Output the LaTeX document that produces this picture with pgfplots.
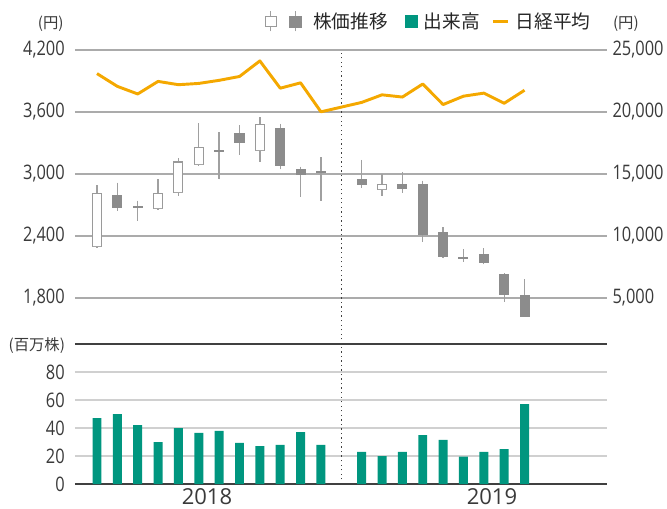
\documentclass[border=0pt]{standalone}
\usepackage{pgfplots}
\pgfplotsset{compat=1.18}
\usepgfplotslibrary{statistics}
\usepackage{fontspec}
\setmainfont{Open Sans}
\newfontfamily\cond{Open Sans}[FakeStretch=0.82]
\newfontfamily\jp{Noto Sans CJK JP}
\definecolor{wickc}{HTML}{A0A0A0}
\definecolor{edgec}{HTML}{9A9A9A}
\definecolor{candg}{HTML}{8C8C8C}
\definecolor{volc}{HTML}{00967F}
\definecolor{nikc}{HTML}{F4A800}
\definecolor{gridu}{HTML}{ABABAB}
\definecolor{gridl}{HTML}{D0D0D0}
\definecolor{darkl}{HTML}{404040}
\definecolor{txt}{HTML}{3A3A3A}
\pgfplotsset{
  wc/.style={draw=edgec, fill=white, line width=0.8pt},
  gc/.style={draw=candg, fill=candg, line width=0.8pt},
  common/.style={
    scale only axis, width=399pt,
    xmin=-1.08, xmax=25.05,
    axis line style={draw=none}, major tick length=0pt,
    xtick=\empty, scaled y ticks=false,
    /pgf/number format/assume math mode=true,
    /pgf/number format/1000 sep={,},
    yticklabel style={font=\cond\fontsize{15}{15}\selectfont, text=txt, inner sep=0pt},
    clip=false,
  },
}
\begin{document}
\begin{tikzpicture}[x=1pt,y=1pt]
\useasboundingbox (-56.25,-18) rectangle (444,363);

% ---------- lower panel: volume ----------
\begin{axis}[common,
  at={(0pt,0pt)}, anchor=south west, height=105pt,
  ymin=0, ymax=100,
  ytick={20,40,60,80},
  ymajorgrids, grid style={draw=gridl, line width=1.1pt},
  extra y ticks={0,100}, extra y tick labels={0,{}},
  extra y tick style={grid style={draw=darkl, line width=1.1pt}},
  yticklabel style={xshift=-7.5pt},
  ybar, bar width=0.44,
]
\addplot[fill=volc, draw=none] coordinates {
 (0,47) (1,50) (2,42) (3,30) (4,40) (5,36.5) (6,38) (7,29.3) (8,27) (9,28) (10,37) (11,28)
 (13,23) (14,20) (15,23) (16,35) (17,31.5) (18,19.5) (19,23) (20,25) (21,57)
};
\draw[darkl, line width=0.9pt, dash pattern=on 1pt off 2.4pt] (axis cs:12,0) -- (axis cs:12,100);
\node[anchor=base, font=\fontsize{16.5}{16.5}\selectfont, text=txt, yshift=-15pt] at (axis cs:5.4,0) {2018};
\node[anchor=base, font=\fontsize{16.5}{16.5}\selectfont, text=txt, yshift=-15pt] at (axis cs:19.4,0) {2019};
\node[anchor=east, font=\jp\fontsize{11.5}{11.5}\selectfont, text=txt, xshift=-4pt, yshift=-1pt] at (rel axis cs:0,1) {(百万株)};
\end{axis}

% ---------- upper panel: candles (left axis) ----------
\begin{axis}[common,
  at={(0pt,105pt)}, anchor=south west, height=220.5pt,
  ymin=1355, ymax=4200,
  ytick={1800,2400,3000,3600,4200},
  ymajorgrids, grid style={draw=gridu, line width=0.8pt},
  yticklabel style={xshift=-7.5pt},
  boxplot/draw direction=y,
  boxplot/box extend=0.44,
  boxplot/whisker extend=0,
  boxplot/every whisker/.style={draw=wickc, line width=1pt},
  boxplot/every median/.style={draw=none},
]
\addplot[wc, boxplot prepared={draw position=0, lower whisker=2281, lower quartile=2297, median=2297, upper quartile=2807, upper whisker=2890}] coordinates {};
\addplot[gc, boxplot prepared={draw position=1, lower whisker=2645, lower quartile=2674, median=2674, upper quartile=2794, upper whisker=2916}] coordinates {};
\addplot[gc, boxplot prepared={draw position=2, lower whisker=2548, lower quartile=2675, median=2675, upper quartile=2685, upper whisker=2742}] coordinates {};
\addplot[wc, boxplot prepared={draw position=3, lower whisker=2652, lower quartile=2668, median=2668, upper quartile=2813, upper whisker=2955}] coordinates {};
\addplot[wc, boxplot prepared={draw position=4, lower whisker=2787, lower quartile=2819, median=2819, upper quartile=3116, upper whisker=3152}] coordinates {};
\addplot[wc, boxplot prepared={draw position=5, lower whisker=3077, lower quartile=3090, median=3090, upper quartile=3258, upper whisker=3490}] coordinates {};
\addplot[gc, boxplot prepared={draw position=6, lower whisker=2949, lower quartile=3221, median=3221, upper quartile=3231, upper whisker=3406}] coordinates {};
\addplot[gc, boxplot prepared={draw position=7, lower whisker=3184, lower quartile=3303, median=3303, upper quartile=3394, upper whisker=3474}] coordinates {};
\addplot[wc, boxplot prepared={draw position=8, lower whisker=3119, lower quartile=3232, median=3232, upper quartile=3481, upper whisker=3555}] coordinates {};
\addplot[gc, boxplot prepared={draw position=9, lower whisker=3045, lower quartile=3087, median=3087, upper quartile=3442, upper whisker=3484}] coordinates {};
\addplot[gc, boxplot prepared={draw position=10, lower whisker=2781, lower quartile=2997, median=2997, upper quartile=3042, upper whisker=3071}] coordinates {};
\addplot[gc, boxplot prepared={draw position=11, lower whisker=2739, lower quartile=3017, median=3017, upper quartile=3027, upper whisker=3162}] coordinates {};
\addplot[gc, boxplot prepared={draw position=13, lower whisker=2868, lower quartile=2894, median=2894, upper quartile=2949, upper whisker=3136}] coordinates {};
\addplot[wc, boxplot prepared={draw position=14, lower whisker=2790, lower quartile=2852, median=2852, upper quartile=2894, upper whisker=2997}] coordinates {};
\addplot[gc, boxplot prepared={draw position=15, lower whisker=2819, lower quartile=2858, median=2858, upper quartile=2894, upper whisker=3016}] coordinates {};
\addplot[gc, boxplot prepared={draw position=16, lower whisker=2345, lower quartile=2413, median=2413, upper quartile=2894, upper whisker=2935}] coordinates {};
\addplot[gc, boxplot prepared={draw position=17, lower whisker=2184, lower quartile=2200, median=2200, upper quartile=2436, upper whisker=2484}] coordinates {};
\addplot[gc, boxplot prepared={draw position=18, lower whisker=2151, lower quartile=2185, median=2185, upper quartile=2195, upper whisker=2274}] coordinates {};
\addplot[gc, boxplot prepared={draw position=19, lower whisker=2126, lower quartile=2142, median=2142, upper quartile=2216, upper whisker=2281}] coordinates {};
\addplot[gc, boxplot prepared={draw position=20, lower whisker=1764, lower quartile=1839, median=1839, upper quartile=2029, upper whisker=2039}] coordinates {};
\addplot[gc, boxplot prepared={draw position=21, lower whisker=1626, lower quartile=1626, median=1626, upper quartile=1822, upper whisker=1984}] coordinates {};
\draw[darkl, line width=0.9pt, dash pattern=on 1pt off 2.4pt] (axis cs:12,1355) -- (axis cs:12,4200);
\node[anchor=east, font=\jp\fontsize{11.5}{11.5}\selectfont, text=txt, xshift=-5pt, yshift=19.5pt] at (rel axis cs:0,1) {(円)};
\end{axis}

% ---------- upper panel: Nikkei average (right axis) ----------
\begin{axis}[common,
  at={(0pt,105pt)}, anchor=south west, height=220.5pt,
  ymin=1290, ymax=25000,
  ytick={5000,10000,15000,20000,25000},
  yticklabel pos=right,
  yticklabel style={xshift=4pt},
  legend style={draw=none, fill=none, at={(0.977,1.097)}, anchor=east,
    font=\jp\fontsize{14}{14}\selectfont, text=black!85,
    column sep=0pt, nodes={inner sep=0pt}},
  legend columns=-1,
]
\addlegendimage{legend image code/.code={
  \path[draw=none, fill=none] (0pt,0pt) (36pt,0pt);
  \draw[draw=wickc, line width=0.8pt] (4.1pt,-7.5pt) -- (4.1pt,7.5pt);
  \draw[draw=edgec, fill=white, line width=0.75pt] (0pt,-4pt) rectangle (8.25pt,4pt);
  \draw[draw=wickc, line width=0.8pt] (22.5pt,-7.5pt) -- (22.5pt,7.5pt);
  \fill[candg] (18pt,-4pt) rectangle (27pt,4pt);
}}
\addlegendentry{株価推移}
\addlegendimage{legend image code/.code={
  \path[draw=none, fill=none] (-12.75pt,0pt) (14.25pt,0pt);
  \fill[volc] (0pt,-4.5pt) rectangle (9pt,4.5pt);}}
\addlegendentry{出来高}
\addplot[nikc, line width=2.2pt, line join=round,
  legend image code/.code={
  \path[draw=none, fill=none] (-9.75pt,0pt) (17.25pt,0pt);
  \draw[nikc, line width=2.2pt] (0pt,0pt) -- (11.25pt,0pt);}]
  coordinates {
 (0,23098) (1,22068) (2,21454) (3,22468) (4,22202) (5,22305) (6,22554) (7,22865) (8,24120) (9,21920) (10,22351) (11,20015)
 (13,20773) (14,21385) (15,21206) (16,22259) (17,20601) (18,21276) (19,21522) (20,20704) (21,21756)
};
\addlegendentry{日経平均}
\node[anchor=west, font=\jp\fontsize{11.5}{11.5}\selectfont, text=txt, xshift=1pt, yshift=19.5pt] at (rel axis cs:1,1) {(円)};
\end{axis}
\end{tikzpicture}
\end{document}
